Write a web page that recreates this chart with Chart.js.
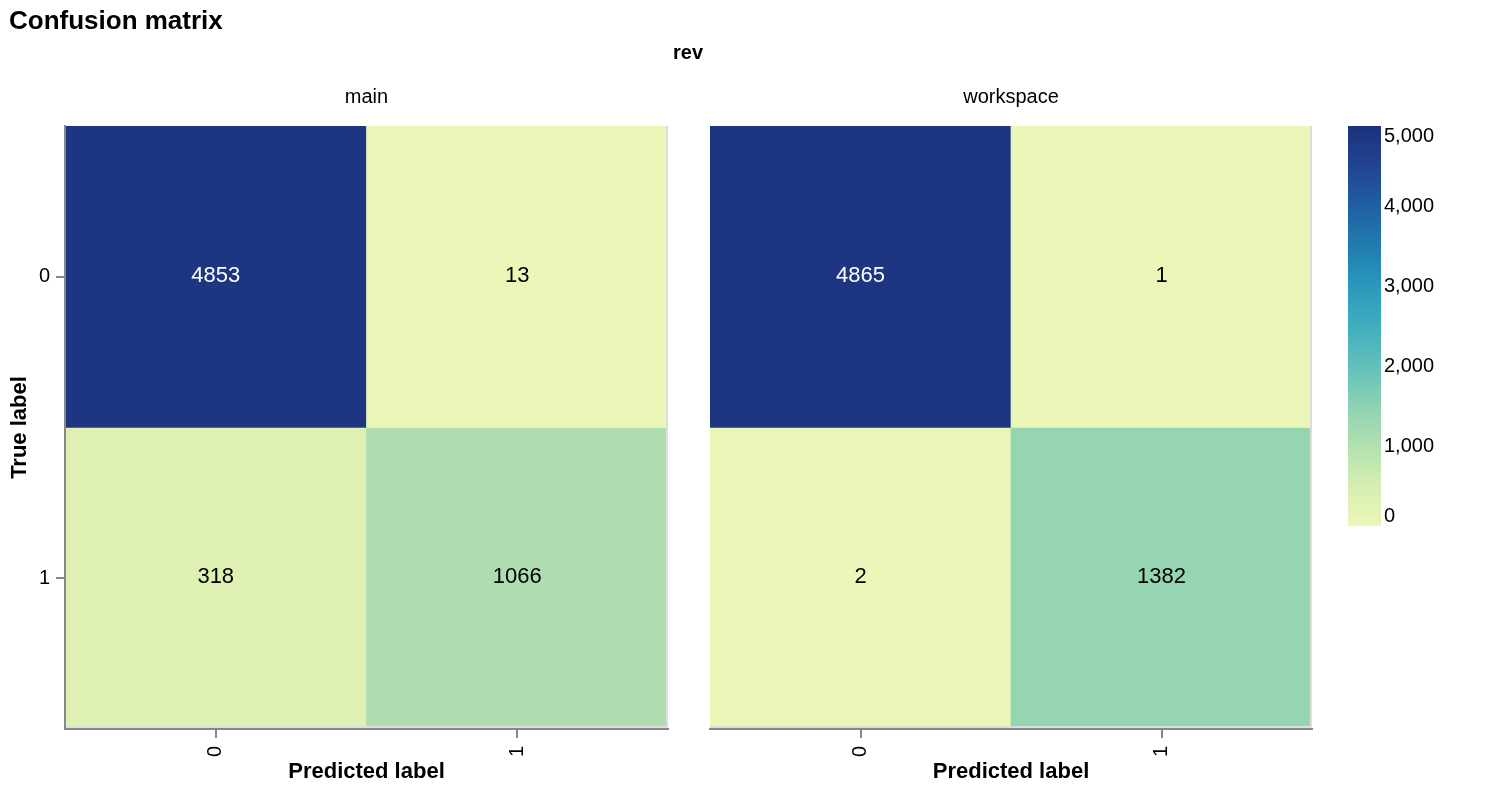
<!DOCTYPE html>
<html>
<head>
<meta charset="utf-8">
<script src="https://cdn.jsdelivr.net/npm/chart.js@4.4.1/dist/chart.umd.min.js"></script>
<style>
  body { margin: 0; background: #fff; width: 1502px; height: 804px; position: relative; overflow: hidden;
         font-family: "Liberation Sans", Arial, Helvetica, sans-serif; }
  canvas { position: absolute; top: 0; }
  .t { position: absolute; font-weight: bold; color: #000; white-space: nowrap; z-index: 2; }
</style>
</head>
<body>
<div class="t" style="left:9px;top:7px;font-size:26px;line-height:26px;">Confusion matrix</div>
<div class="t" style="left:588px;width:200px;text-align:center;top:42px;font-size:20px;line-height:20px;">rev</div>
<canvas id="main" width="690" height="804" style="left:0"></canvas>
<canvas id="workspace" width="640" height="804" style="left:690px"></canvas>
<canvas id="legend" width="172" height="804" style="left:1330px"></canvas>
<script>
const facetNames = ["main", "workspace"];
const trueLabels = ["0", "1"];
const predLabels = ["0", "1"];
// counts[true label][predicted label]
const mainCounts = [[4853, 13], [318, 1066]];
const workspaceCounts = [[4865, 1], [2, 1382]];
const legendMin = 0;
const legendMax = 5000;
const legendStep = 1000;

const FONT = '"Liberation Sans", Arial, Helvetica, sans-serif';
Chart.defaults.font.family = FONT;
Chart.defaults.color = "#000";

// yellow-green-blue ramp, as it looks in the picture
const ylgnbu = ["#ebf7b9", "#d6eeb0", "#b3e0b0", "#8dd2b3", "#62c0ba", "#40aebe",
                "#2a98bb", "#207cb0", "#205fa2", "#224491", "#1c307c"];

function hex(c) {
  return [1, 3, 5].map((i) => parseInt(c.slice(i, i + 2), 16));
}

function colorFor(v) {
  const t = Math.max(0, Math.min(1, (v - legendMin) / (legendMax - legendMin)));
  const p = t * (ylgnbu.length - 1);
  const i = Math.min(Math.floor(p), ylgnbu.length - 2);
  const f = p - i;
  const a = hex(ylgnbu[i]);
  const b = hex(ylgnbu[i + 1]);
  const m = a.map((x, k) => Math.round(x + (b[k] - x) * f));
  return `rgb(${m[0]},${m[1]},${m[2]})`;
}

// light view outline on the right and bottom of each panel
const viewStroke = {
  id: "viewStroke",
  afterDatasetsDraw(chart) {
    const { ctx, chartArea: a } = chart;
    ctx.save();
    ctx.fillStyle = "#ddd";
    ctx.fillRect(a.right - 2, a.top, 2, a.bottom - a.top);
    ctx.fillRect(a.left, a.bottom - 3, a.right - a.left, 2);
    ctx.restore();
  },
};

// count written in the middle of every cell
const cellText = {
  id: "cellText",
  afterDatasetsDraw(chart) {
    const { ctx } = chart;
    ctx.save();
    ctx.font = `22px ${FONT}`;
    ctx.textAlign = "center";
    ctx.textBaseline = "middle";
    chart.data.datasets.forEach((ds, di) => {
      chart.getDatasetMeta(di).data.forEach((bar, ci) => {
        const v = ds.counts[ci];
        ctx.fillStyle = v > legendMax / 2 ? "#fff" : "#000";
        ctx.fillText(String(v), bar.x, (bar.y + bar.base) / 2 - 1);
      });
    });
    ctx.restore();
  },
};

function facetChart(id, name, counts, showY, padLeft, padRight) {
  const tickGrid = { display: true, drawOnChartArea: false, offset: false, color: "#888",
                     lineWidth: 2, tickLength: 9 };
  return new Chart(document.getElementById(id), {
    type: "bar",
    data: {
      labels: predLabels,
      datasets: trueLabels.map((lab, r) => ({
        label: lab,
        data: predLabels.map(() => [r, r + 1]),
        counts: counts[r],
        backgroundColor: counts[r].map(colorFor),
        borderWidth: 0,
        grouped: false,
        barPercentage: 1,
        categoryPercentage: 1,
      })),
    },
    options: {
      responsive: false,
      animation: false,
      layout: { padding: { left: padLeft, right: padRight, top: 0, bottom: 0 } },
      plugins: {
        legend: { display: false },
        tooltip: { enabled: false },
        title: {
          display: true, text: name, fullSize: false, color: "#000",
          font: { size: 20, weight: "normal" },
          padding: { top: 85, bottom: 17 },
        },
      },
      scales: {
        x: {
          grid: tickGrid,
          border: { color: "#888", width: 2, z: 1 },
          ticks: { font: { size: 20 }, minRotation: 90, maxRotation: 90, padding: 8, color: "#000" },
          title: {
            display: true, text: "Predicted label", color: "#000",
            font: { size: 22, weight: "bold" }, padding: { top: 0, bottom: 19 },
          },
          afterFit: (s) => { s.height = 75; },
        },
        y: {
          display: showY,
          type: "linear",
          min: 0,
          max: trueLabels.length,
          reverse: true,
          afterBuildTicks: (s) => { s.ticks = trueLabels.map((_, i) => ({ value: i + 0.5 })); },
          ticks: { callback: (v) => trueLabels[Math.floor(v)], font: { size: 20 }, padding: 6, color: "#000" },
          grid: tickGrid,
          border: { color: "#888", width: 2, z: 1 },
          title: {
            display: true, text: "True label", color: "#000",
            font: { size: 22, weight: "bold" }, padding: { top: 7, bottom: 0 },
          },
          afterFit: (s) => { s.width = showY ? 65 : 0; },
        },
      },
    },
    plugins: [viewStroke, cellText],
  });
}

facetChart("main", facetNames[0], mainCounts, true, 0, 22);
facetChart("workspace", facetNames[1], workspaceCounts, false, 20, 18);

function gradientFill(c) {
  const chart = c.chart;
  const y = chart.scales.y;
  if (!chart.chartArea || !y) return ylgnbu[0];
  const y0 = y.getPixelForValue(legendMin);
  const y1 = y.getPixelForValue(legendMax);
  if (!isFinite(y0) || !isFinite(y1)) return ylgnbu[0];
  const g = chart.ctx.createLinearGradient(0, y0, 0, y1);
  ylgnbu.forEach((col, i) => g.addColorStop(i / (ylgnbu.length - 1), col));
  return g;
}

// end labels are pulled inside the bar, like the original legend
function legendLabel(v) {
  const s = v.toLocaleString("en-US");
  if (v === legendMax) return ["", s];
  if (v === legendMin) return [s, ""];
  return s;
}

const legendChart = new Chart(document.getElementById("legend"), {
  type: "bar",
  data: {
    labels: [""],
    datasets: [{
      data: [[legendMin, legendMax]],
      backgroundColor: gradientFill,
      borderWidth: 0,
      barPercentage: 1,
      categoryPercentage: 1,
    }],
  },
  options: {
    responsive: false,
    animation: false,
    layout: { padding: { left: 18, right: 0, top: 126, bottom: 278 } },
    plugins: { legend: { display: false }, tooltip: { enabled: false } },
    scales: {
      x: { display: false },
      y: {
        position: "right",
        min: legendMin,
        max: legendMax,
        grid: { display: false, drawTicks: false },
        border: { display: false },
        ticks: {
          stepSize: legendStep, padding: 3, font: { size: 20, lineHeight: 1 }, color: "#000",
          callback: legendLabel,
        },
        afterFit: (s) => { s.width = 121; },
      },
    },
  },
});
legendChart.update();
</script>
</body>
</html>
